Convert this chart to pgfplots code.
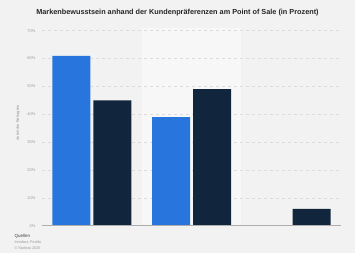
\documentclass[border=0pt]{standalone}
\usepackage{pgfplots}
\pgfplotsset{compat=1.18}
\usepackage{fontspec}
\setmainfont{Liberation Sans}
\definecolor{bg}{HTML}{F2F2F2}
\definecolor{band}{HTML}{F7F7F7}
\definecolor{sblue}{HTML}{2876DD}
\definecolor{sdark}{HTML}{11263D}
\definecolor{gridc}{HTML}{DCDCDC}
\definecolor{tickc}{HTML}{9A9A9A}
\pagecolor{bg}
\begin{document}
\begin{tikzpicture}[x=1pt,y=1pt]
\path (0,0) rectangle (355,253);
\node[font=\bfseries\fontsize{7.3}{8}\selectfont, text=black!85] at (177.5,240) {Markenbewusstsein anhand der Kundenpräferenzen am Point of Sale (in Prozent)};
\node[rotate=90, font=\fontsize{4}{4}\selectfont, text=tickc] at (18,130) {Anteil der Befragten};
\begin{axis}[
  at={(42pt,27.3pt)}, anchor=south west,
  scale only axis, width=299pt, height=195pt,
  xmin=-0.5, xmax=2.5, ymin=0, ymax=70,
  axis line style={draw=none},
  ytick={0,10,20,30,40,50,60,70},
  yticklabel={\pgfmathprintnumber{\tick}\%},
  yticklabel style={font=\fontsize{4}{4}\selectfont, text=tickc, xshift=-3pt},
  /pgf/number format/assume math mode=true,
  xtick=\empty,
  major tick length=0pt,
  ymajorgrids, grid style={gridc, dashed, line width=0.5pt},
  ybar, bar width=38pt,
  clip=false,
  set layers,
]
\begin{pgfonlayer}{axis background}
\fill[band] (axis cs:0.5,0) rectangle (axis cs:1.5,71);
\end{pgfonlayer}
\addplot[fill=sblue, draw=none, bar shift=-20.5pt] coordinates {(0,61) (1,39) (2,0)};
\addplot[fill=sdark, draw=none, bar shift=20.5pt] coordinates {(0,45) (1,49) (2,6)};
\draw[tickc!80, line width=0.6pt] (axis cs:-0.5,0) -- (axis cs:2.5,0);
\end{axis}
\node[anchor=west, font=\fontsize{4.5}{5}\selectfont, text=black!75] at (11,17) {Quellen};
\node[anchor=west, font=\fontsize{3.8}{4}\selectfont, text=tickc] at (11,10.5) {Innofact; Pexillo};
\node[anchor=west, font=\fontsize{3.8}{4}\selectfont, text=tickc] at (11,5) {© Statista 2025};
\pgfresetboundingbox
\path (0,0) rectangle (355,253);
\end{tikzpicture}
\end{document}
